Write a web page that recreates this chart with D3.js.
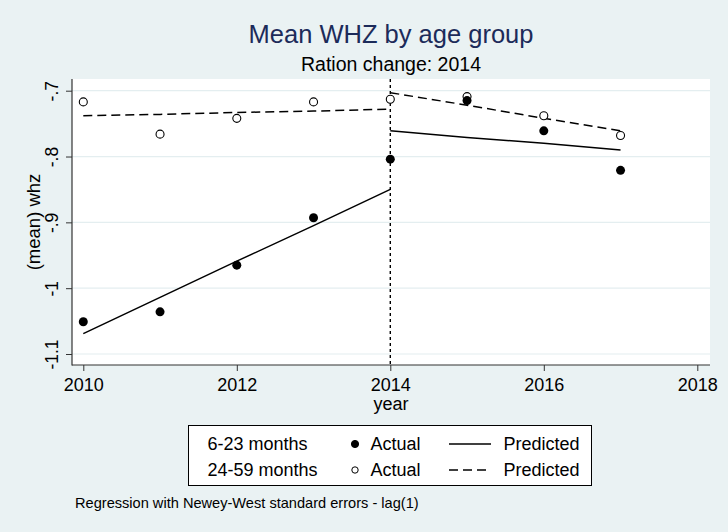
<!DOCTYPE html>
<html>
<head>
<meta charset="utf-8">
<script src="https://cdn.jsdelivr.net/npm/d3@7"></script>
<style>
  html, body { margin: 0; padding: 0; background: #eaf2f3; }
  svg { display: block; font-family: "Liberation Sans", Arial, Helvetica, sans-serif; }
</style>
</head>
<body>
<svg id="chart" width="728" height="532"></svg>
<script>
// ---- data ----
const years = [2010, 2011, 2012, 2013, 2014, 2015, 2016, 2017];
const actual623 = [-1.051, -1.036, -0.965, -0.893, -0.804, -0.715, -0.761, -0.821];
const actual2459 = [-0.717, -0.766, -0.742, -0.717, -0.713, -0.709, -0.738, -0.768];
const predYearsPre = [2010, 2011, 2012, 2013, 2014];
const predYearsPost = [2014, 2015, 2016, 2017];
const pred623Pre = [-1.069, -1.014, -0.959, -0.905, -0.850];
const pred623Post = [-0.761, -0.771, -0.780, -0.790];
const pred2459Pre = [-0.738, -0.736, -0.733, -0.731, -0.728];
const pred2459Post = [-0.703, -0.722, -0.742, -0.761];
const xTicks = [2010, 2012, 2014, 2016, 2018];
const yTicks = [-0.7, -0.8, -0.9, -1, -1.1];
const yTickLabels = ["-.7", "-.8", "-.9", "-1", "-1.1"];
const changeYear = 2014;

// ---- layout ----
const svg = d3.select("#chart");
const W = 728, H = 532;
const plot = { left: 72, right: 710, top: 79, bottom: 365 };
const x = d3.scaleLinear().domain([2010, 2018]).range([83.3, 697.3]);
const y = d3.scaleLinear().domain([-1.1, -0.7]).range([354, 90.7]);

svg.append("rect").attr("width", W).attr("height", H).attr("fill", "#eaf2f3");
svg.append("rect")
  .attr("x", plot.left).attr("y", plot.top)
  .attr("width", plot.right - plot.left).attr("height", plot.bottom - plot.top)
  .attr("fill", "#ffffff");

// gridlines
svg.append("g").selectAll("line").data(yTicks).join("line")
  .attr("x1", plot.left).attr("x2", plot.right)
  .attr("y1", d => y(d)).attr("y2", d => y(d))
  .attr("stroke", "#e4eef0").attr("stroke-width", 1.2);

// y axis
const yAxis = d3.axisLeft(y).tickValues(yTicks)
  .tickFormat((d, i) => yTickLabels[i]).tickSize(6).tickPadding(0);
const gy = svg.append("g").attr("transform", `translate(${plot.left},0)`).call(yAxis);
gy.select(".domain").remove();
gy.selectAll(".tick line").attr("stroke", "#333").attr("stroke-width", 1);
gy.selectAll(".tick text")
  .attr("x", null).attr("dy", null)
  .attr("transform", "translate(-14,0) rotate(-90)")
  .attr("text-anchor", "middle")
  .attr("font-size", 17.5).attr("fill", "#000")
  .attr("font-family", "Liberation Sans, Arial, sans-serif");

// x axis
const xAxis = d3.axisBottom(x).tickValues(xTicks).tickFormat(d3.format("d")).tickSize(6).tickPadding(6);
const gx = svg.append("g").attr("transform", `translate(0,${plot.bottom})`).call(xAxis);
gx.select(".domain").remove();
gx.selectAll(".tick line").attr("stroke", "#333").attr("stroke-width", 1);
gx.selectAll(".tick text")
  .attr("y", null).attr("dy", null)
  .attr("transform", "translate(0,26)")
  .attr("font-size", 18).attr("fill", "#000")
  .attr("font-family", "Liberation Sans, Arial, sans-serif");

// axis lines
svg.append("line").attr("x1", plot.left).attr("x2", plot.left)
  .attr("y1", plot.top).attr("y2", plot.bottom + 0.5)
  .attr("stroke", "#333").attr("stroke-width", 1.2);
svg.append("line").attr("x1", plot.left).attr("x2", plot.right)
  .attr("y1", plot.bottom).attr("y2", plot.bottom)
  .attr("stroke", "#333").attr("stroke-width", 1.2);

// vertical ration change line
svg.append("line")
  .attr("x1", x(changeYear)).attr("x2", x(changeYear))
  .attr("y1", plot.top).attr("y2", plot.bottom)
  .attr("stroke", "#000").attr("stroke-width", 1.4)
  .attr("stroke-dasharray", "3,3");

// predicted lines
const line = d3.line().x(d => x(d[0])).y(d => y(d[1]));
const solidSegs = [d3.zip(predYearsPre, pred623Pre), d3.zip(predYearsPost, pred623Post)];
const dashSegs = [d3.zip(predYearsPre, pred2459Pre), d3.zip(predYearsPost, pred2459Post)];
svg.append("g").selectAll("path").data(solidSegs).join("path")
  .attr("d", line).attr("fill", "none").attr("stroke", "#000").attr("stroke-width", 1.5);
svg.append("g").selectAll("path").data(dashSegs).join("path")
  .attr("d", line).attr("fill", "none").attr("stroke", "#000").attr("stroke-width", 1.5)
  .attr("stroke-dasharray", "9,5");

// markers
svg.append("g").selectAll("circle").data(d3.zip(years, actual2459)).join("circle")
  .attr("cx", d => x(d[0])).attr("cy", d => y(d[1])).attr("r", 4)
  .attr("fill", "#fff").attr("stroke", "#000").attr("stroke-width", 1.1);
svg.append("g").selectAll("circle").data(d3.zip(years, actual623)).join("circle")
  .attr("cx", d => x(d[0])).attr("cy", d => y(d[1])).attr("r", 4.5)
  .attr("fill", "#000");

// titles
svg.append("text").attr("x", 391).attr("y", 43).attr("text-anchor", "middle")
  .attr("font-size", 25.5).attr("fill", "#1c2b5a").text("Mean WHZ by age group");
svg.append("text").attr("x", 391).attr("y", 71).attr("text-anchor", "middle")
  .attr("font-size", 19.5).attr("fill", "#000").text("Ration change: 2014");

// axis titles
svg.append("text").attr("x", 391).attr("y", 410).attr("text-anchor", "middle")
  .attr("font-size", 18).attr("fill", "#000").text("year");
svg.append("text").attr("transform", "translate(40,222) rotate(-90)").attr("text-anchor", "middle")
  .attr("font-size", 18.5).attr("fill", "#000").text("(mean) whz");

// legend
const lg = svg.append("g");
lg.append("rect").attr("x", 188.5).attr("y", 425.5).attr("width", 403).attr("height", 60)
  .attr("fill", "#fff").attr("stroke", "#000").attr("stroke-width", 1);
const legendRows = [
  { label: "6-23 months", filled: true, dash: null, ty: 450, my: 444 },
  { label: "24-59 months", filled: false, dash: "9,5", ty: 476, my: 470 }
];
legendRows.forEach(r => {
  lg.append("text").attr("x", 207.5).attr("y", r.ty).attr("font-size", 18).text(r.label);
  lg.append("circle").attr("cx", 355).attr("cy", r.my).attr("r", r.filled ? 3.6 : 3.2)
    .attr("fill", r.filled ? "#000" : "#fff").attr("stroke", "#000").attr("stroke-width", 1);
  lg.append("text").attr("x", 370.5).attr("y", r.ty).attr("font-size", 18).text("Actual");
  lg.append("line").attr("x1", 449).attr("x2", 491).attr("y1", r.my).attr("y2", r.my)
    .attr("stroke", "#000").attr("stroke-width", 1.5).attr("stroke-dasharray", r.dash);
  lg.append("text").attr("x", 503.5).attr("y", r.ty).attr("font-size", 18).text("Predicted");
});

// note
svg.append("text").attr("x", 75).attr("y", 508).attr("font-size", 14.6).attr("fill", "#000")
  .text("Regression with Newey-West standard errors - lag(1)");
</script>
</body>
</html>
